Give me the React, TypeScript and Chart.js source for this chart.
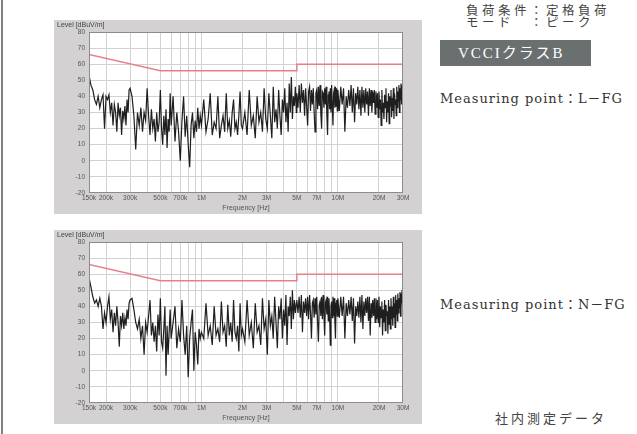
import React, { useEffect, useRef } from "react";
import { Chart, registerables } from "chart.js";

Chart.register(...registerables);

// Sweep frequencies (kHz)
const FREQ_KHZ = [
  150, 155, 160, 165, 170, 175, 180, 185, 190, 195, 200, 205, 210, 215, 220, 225, 230, 235, 240, 245, 250, 255, 260, 265, 270, 275, 280, 285, 290, 295,
  300, 310, 320, 330, 340, 350, 360, 370, 380, 390, 400, 410, 420, 430, 440, 450, 460, 470, 480, 490, 500, 510, 520, 530, 540, 550, 560, 570, 580, 590,
  600, 620, 640, 660, 680, 700, 720, 740, 760, 780, 800, 820, 840, 860, 880, 900, 920, 940, 960, 980,
  1000, 1040, 1080, 1120, 1160, 1200, 1240, 1280, 1320, 1360, 1400, 1440, 1480, 1520, 1560, 1600, 1640, 1680, 1720, 1760, 1800, 1840, 1880, 1920, 1960,
  2000, 2080, 2160, 2240, 2320, 2400, 2480, 2560, 2640, 2720, 2800, 2880, 2960, 3040, 3120, 3200, 3280, 3360, 3440, 3520, 3600, 3680, 3760, 3840, 3920, 4000, 4080, 4160, 4240, 4320, 4400, 4480, 4560, 4640, 4720, 4800, 4880, 4960,
  5000, 5100, 5200, 5300, 5400, 5500, 5600, 5700, 5800, 5900, 6000, 6100, 6200, 6300, 6400, 6500, 6600, 6700, 6800, 6900,
  7000, 7100, 7200, 7300, 7400, 7500, 7600, 7700, 7800, 7900, 8000, 8100, 8200, 8300, 8400, 8500, 8600, 8700, 8800, 8900,
  9000, 9100, 9200, 9300, 9400, 9500, 9600, 9700, 9800, 9900,
  10000, 10250, 10500, 10750, 11000, 11250, 11500, 11750, 12000, 12250,
  12500, 12750, 13000, 13250, 13500, 13750, 14000, 14250, 14500, 14750,
  15000, 15250, 15500, 15750, 16000, 16250, 16500, 16750, 17000, 17250,
  17500, 17750, 18000, 18250, 18500, 18750, 19000, 19250, 19500, 19750,
  20000, 20250, 20500, 20750, 21000, 21250, 21500, 21750, 22000, 22250,
  22500, 22750, 23000, 23250, 23500, 23750, 24000, 24250, 24500, 24750,
  25000, 25250, 25500, 25750, 26000, 26250, 26500, 26750, 27000, 27250,
  27500, 27750, 28000, 28250, 28500, 28750, 29000, 29250, 29500, 29750,
  30000,
];

// Measured level, L-FG (dBuV)
const LEVEL_L_FG = [
  53, 47, 44, 38, 35, 40, 33, 38, 41, 20, 40, 38, 41, 30, 36, 22, 35, 30, 18, 36, 28, 33, 16, 31, 26, 34, 22, 38, 30, 44,
  45, 40, 28, 7, 30, 22, 33, 18, 30, 25, 45, 28, 16, 32, 20, 26, 12, 30, 18, 24, 44, 20, 10, 28, 16, 32, 8, 26, 18, 42,
  22, 40, 12, 30, 18, 0, 25, 40, 15, 28, 10, -4, 22, 30, 14, 25, 18, 33, 20, 28,
  22, 38, 18, 26, 42, 16, 24, 20, 40, 14, 22, 28, 18, 42, 20, 25, 15, 30, 38, 20, 24, 16, 28, 43, 22,
  20, 30, 16, 44, 22, 28, 14, 40, 24, 30, 18, 45, 26, 20, 42, 28, 14, 46, 24, 32, 20, 44, 28, 16, 38, 30, 45, 24, 36, 18, 48, 30, 52, 26, 40, 34, 46, 30,
  42, 33, 47, 30, 48, 36, 44, 28, 45, 34, 22, 43, 46, 31, 44, 35, 45, 30, 18, 42,
  44, 32, 46, 34, 47, 29, 20, 43, 42, 33, 45, 35, 46, 28, 16, 41, 43, 32, 45, 30,
  47, 34, 22, 42, 44, 33, 46, 34, 45, 31,
  44, 31, 46, 35, 45, 18, 40, 33, 44, 34,
  47, 30, 45, 24, 42, 35, 46, 32, 44, 28,
  46, 33, 44, 30, 45, 35, 43, 28, 45, 34,
  44, 30, 43, 36, 44, 29, 43, 33, 42, 27,
  43, 32, 38, 22, 44, 30, 36, 26, 41, 33,
  45, 24, 37, 30, 42, 23, 40, 34, 44, 27,
  39, 31, 45, 26, 42, 35, 38, 28, 46, 33,
  43, 37, 47, 30, 45, 38, 48, 35, 47, 41,
  50,
];

// Measured level, N-FG (dBuV)
const LEVEL_N_FG = [
  58, 52, 46, 42, 44, 40, 45, 40, 26, 36, 30, 40, 46, 32, 38, 24, 36, 28, 40, 30, 15, 34, 28, 36, 26, 33, 28, 38, 32, 42,
  44, 45, 38, 30, 26, 32, 20, 28, 10, 30, 24, 34, 44, 22, 30, 18, 28, 12, 35, 22, 45, 18, 14, 26, 40, -3, 28, 10, 24, 38,
  20, 30, 40, 14, 26, 18, 44, 22, 10, 28, -4, 20, 30, 38, 0, 24, 16, 4, 26, 20,
  24, 20, 42, 22, 28, 16, 40, 22, 26, 18, 43, 24, 28, 15, 41, 22, 30, 18, 44, 24, 20, 28, 12, 42, 22,
  26, 18, 44, 22, 30, 14, 42, 24, 28, 16, 45, 26, 32, 10, 44, 28, 34, 20, 46, 30, 14, 40, 32, 45, 20, 38, 28, 47, 16, 40, 34, 46, 26, 50, 32, 44, 36, 42,
  44, 36, 46, 33, 47, 24, 43, 36, 45, 34, 46, 32, 47, 36, 20, 42, 44, 33, 45, 35,
  46, 30, 18, 41, 43, 34, 46, 32, 47, 35, 22, 42, 44, 35, 46, 31, 45, 34, 16, 40,
  43, 33, 46, 34, 45, 31, 20, 42, 44, 34,
  45, 33, 46, 34, 46, 20, 42, 34, 44, 35,
  46, 31, 45, 17, 40, 34, 43, 33, 46, 30,
  47, 26, 43, 34, 45, 36, 46, 31, 46, 22,
  42, 33, 44, 34, 45, 30, 45, 32, 44, 30,
  46, 27, 40, 33, 43, 22, 38, 30, 44, 25,
  41, 34, 37, 23, 44, 29, 40, 26, 45, 32,
  40, 28, 46, 33, 42, 27, 47, 35, 44, 31,
  48, 36, 45, 39, 49, 34, 48, 42, 50, 40,
  52,
];

// VCCI Class B limit line
const LIMIT_FREQ_KHZ = [150, 500, 5000, 5000, 30000];
const LIMIT_LEVEL = [66, 56, 56, 60, 60];

// Axis grid / ticks
const GRID_FREQ_KHZ = [150, 200, 300, 400, 500, 600, 700, 800, 900, 1000, 2000, 3000, 4000, 5000, 6000, 7000, 8000, 9000, 10000, 20000, 30000];
const FREQ_TICK_VALUES_KHZ = [150, 200, 300, 500, 700, 1000, 2000, 3000, 5000, 7000, 10000, 20000, 30000];
const FREQ_TICK_LABELS = ["150k", "200k", "300k", "500k", "700k", "1M", "2M", "3M", "5M", "7M", "10M", "20M", "30M"];
const LEVEL_TICKS = [-20, -10, 0, 10, 20, 30, 40, 50, 60, 70, 80];

const AXIS_FONT = '"Liberation Sans", Arial, sans-serif';

const panelPlugin = {
  id: "panel",
  beforeDraw(chart: any) {
    const { ctx, chartArea, width, height } = chart;
    ctx.save();
    ctx.fillStyle = "#d3d1d1";
    ctx.fillRect(0, 0, width, height);
    ctx.fillStyle = "#ffffff";
    ctx.fillRect(chartArea.left, chartArea.top, chartArea.right - chartArea.left, chartArea.bottom - chartArea.top);
    ctx.restore();
  },
  afterDraw(chart: any) {
    const { ctx, chartArea } = chart;
    ctx.save();
    ctx.strokeStyle = "#8c8c8c";
    ctx.lineWidth = 1;
    ctx.strokeRect(
      Math.round(chartArea.left) + 0.5,
      Math.round(chartArea.top) + 0.5,
      Math.round(chartArea.right - chartArea.left) - 1,
      Math.round(chartArea.bottom - chartArea.top) - 1
    );
    ctx.fillStyle = "#444";
    ctx.font = `7px ${AXIS_FONT}`;
    ctx.textBaseline = "middle";
    ctx.textAlign = "left";
    ctx.fillText("Level [dBuV/m]", 3, 5);
    ctx.restore();
  },
};

function makeConfig(levels: number[]): any {
  const n = Math.min(FREQ_KHZ.length, levels.length);
  const trace = [];
  for (let i = 0; i < n; i++) trace.push({ x: FREQ_KHZ[i] * 1000, y: levels[i] });
  const limit = LIMIT_FREQ_KHZ.map((f, i) => ({ x: f * 1000, y: LIMIT_LEVEL[i] }));
  return {
    type: "line",
    data: {
      datasets: [
        { data: limit, borderColor: "#e8808c", borderWidth: 1.5, pointRadius: 0, order: 0 },
        { data: trace, borderColor: "rgba(12,12,12,0.92)", borderWidth: 1.2, pointRadius: 0, order: 1 },
      ],
    },
    options: {
      responsive: false,
      animation: false,
      devicePixelRatio: 1,
      layout: { padding: { top: 12, right: 19, left: 0, bottom: 0 } },
      plugins: { legend: { display: false }, tooltip: { enabled: false } },
      scales: {
        x: {
          type: "logarithmic",
          min: 150000,
          max: 30000000,
          afterBuildTicks: (s: any) => {
            s.ticks = GRID_FREQ_KHZ.map((f) => ({ value: f * 1000 }));
          },
          afterFit: (s: any) => {
            s.height = 21;
          },
          ticks: {
            autoSkip: false,
            maxRotation: 0,
            minRotation: 0,
            padding: 1,
            color: "#555",
            font: { size: 6.5, family: AXIS_FONT },
            callback: (v: any) => {
              const idx = FREQ_TICK_VALUES_KHZ.findIndex((k) => Math.abs(k * 1000 - Number(v)) < 1);
              return idx >= 0 ? FREQ_TICK_LABELS[idx] : "";
            },
          },
          grid: { color: "#d2d2d2", drawTicks: false },
          border: { display: false },
          title: {
            display: true,
            text: "Frequency [Hz]",
            color: "#555",
            font: { size: 7, family: AXIS_FONT },
            padding: { top: 0, bottom: 2 },
          },
        },
        y: {
          min: -20,
          max: 80,
          afterBuildTicks: (s: any) => {
            s.ticks = LEVEL_TICKS.map((v) => ({ value: v }));
          },
          afterFit: (s: any) => {
            s.width = 35;
          },
          ticks: {
            padding: 4,
            color: "#555",
            font: { size: 6.5, family: AXIS_FONT },
          },
          grid: { color: "#d2d2d2", drawTicks: false },
          border: { display: false },
        },
      },
    },
    plugins: [panelPlugin],
  };
}

function EmiChart({ levels, style }: { levels: number[]; style: React.CSSProperties }) {
  const ref = useRef<HTMLCanvasElement | null>(null);
  useEffect(() => {
    if (!ref.current) return;
    const chart = new Chart(ref.current, makeConfig(levels));
    return () => chart.destroy();
  }, [levels]);
  return <canvas ref={ref} width={368} height={194} style={{ position: "absolute", width: 368, height: 194, ...style }} />;
}

const JP = '"Noto Sans CJK JP", sans-serif';
const SERIF = '"DejaVu Serif", "Liberation Serif", "Noto Sans CJK JP", serif';

export default function App() {
  return (
    <div style={{ position: "fixed", left: 0, top: 0, width: 637, height: 434, background: "#fff", overflow: "hidden" }}>
      <div style={{ position: "absolute", left: 1, top: 0, width: 2, height: 434, background: "#808080" }} />
      <EmiChart levels={LEVEL_L_FG} style={{ left: 54, top: 20 }} />
      <EmiChart levels={LEVEL_N_FG} style={{ left: 54, top: 230 }} />

      <div style={{ position: "absolute", left: 466, top: 4, font: `12.5px ${JP}`, lineHeight: "12px", color: "#444", letterSpacing: "3.5px", whiteSpace: "pre" }}>
        <div>負荷条件：定格負荷</div>
        <div>モード　：ピーク</div>
      </div>

      <div style={{ position: "absolute", left: 440, top: 40, width: 151, height: 26, background: "#6a7070", color: "#fff", font: `15px "Liberation Serif", ${JP}`, lineHeight: "26px", paddingLeft: 18, boxSizing: "border-box", letterSpacing: "2px", whiteSpace: "nowrap" }}>
        VCCIクラスB
      </div>

      <div style={{ position: "absolute", left: 440, top: 92, font: `13px ${SERIF}`, lineHeight: "14px", color: "#333", letterSpacing: "1px", whiteSpace: "nowrap" }}>
        Measuring point：L－FG
      </div>
      <div style={{ position: "absolute", left: 440, top: 298, font: `13px ${SERIF}`, lineHeight: "14px", color: "#333", letterSpacing: "1px", whiteSpace: "nowrap" }}>
        Measuring point：N－FG
      </div>

      <div style={{ position: "absolute", left: 495, top: 411, font: `13px ${JP}`, lineHeight: "14px", color: "#444", letterSpacing: "3px", whiteSpace: "nowrap" }}>
        社内測定データ
      </div>
    </div>
  );
}
